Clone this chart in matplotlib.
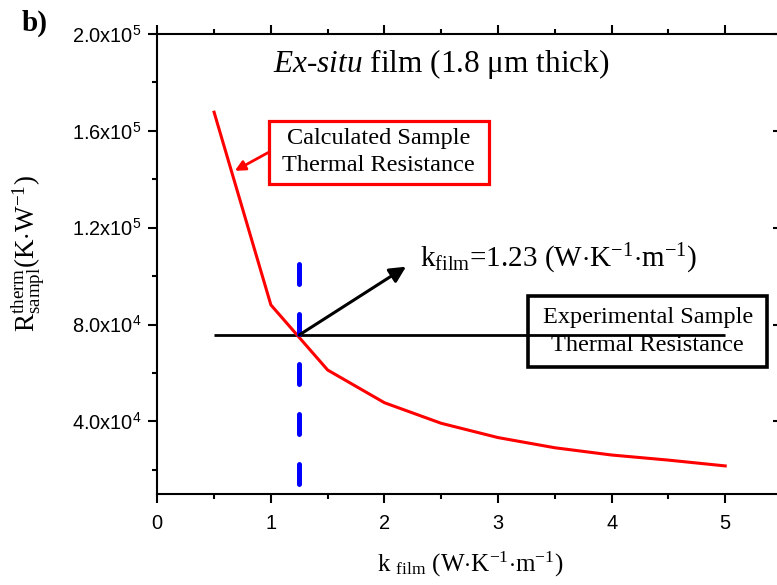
import matplotlib
matplotlib.use('Agg')
import matplotlib.pyplot as plt
from matplotlib.ticker import MultipleLocator, FuncFormatter, FixedLocator
from matplotlib.patches import Rectangle
import math

# ---- data ----
k_film = [0.5, 1.0, 1.5, 2.0, 2.5, 3.0, 3.5, 4.0, 4.5, 5.0]
r_calc = [1.677e5, 8.81e4, 6.12e4, 4.77e4, 3.92e4, 3.33e4, 2.91e4, 2.61e4, 2.40e4, 2.16e4]
k_exp = [0.5, 5.0]
r_exp = [7.57e4, 7.57e4]
k_cross = 1.25
r_cross_span = [1.05e5, 1.35e4]
x_ticks = [0, 1, 2, 3, 4, 5]
y_ticks = [4e4, 8e4, 1.2e5, 1.6e5, 2.0e5]

plt.rcParams.update({
    'font.family': ['Liberation Sans', 'DejaVu Sans'],
    'mathtext.fontset': 'custom',
    'mathtext.rm': 'Liberation Serif',
    'mathtext.it': 'Liberation Serif:italic',
    'mathtext.bf': 'Liberation Serif:bold',
    'mathtext.sf': 'Liberation Sans',
    'lines.scale_dashes': False,
    'axes.linewidth': 1.5,
})
SERIF = ['Liberation Serif', 'DejaVu Serif']

W, H = 777, 585
fig = plt.figure(figsize=(W / 100, H / 100), dpi=100)
ax = fig.add_axes([157.3 / W, (H - 494) / H, (782 - 157.3) / W, 460 / H])
ax.set_xlim(0, 5.5)
ax.set_ylim(1e4, 2e5)

ax.plot(k_exp, r_exp, color='black', lw=2.0, solid_capstyle='butt', zorder=2)
ax.plot(k_film, r_calc, color='red', lw=2.2, zorder=3)
ax.plot([k_cross, k_cross], r_cross_span, color='blue', lw=3.6,
        linestyle=(0, (14.4, 21.6)), dash_capstyle='round', zorder=4)

# ticks
ax.xaxis.set_major_locator(FixedLocator(x_ticks))
ax.xaxis.set_minor_locator(MultipleLocator(0.5))
ax.yaxis.set_major_locator(FixedLocator(y_ticks))
ax.yaxis.set_minor_locator(MultipleLocator(2e4))


def yfmt(v, pos):
    e = int(math.floor(math.log10(v)))
    m = v / 10 ** e
    return f"{m:.1f}x10$^{{\\mathsf{{{e}}}}}$"


ax.yaxis.set_major_formatter(FuncFormatter(yfmt))
ax.tick_params(axis='x', which='both', direction='out', top=True, bottom=True,
               labeltop=False, labelsize=14.4, width=1.5, pad=8)
ax.tick_params(axis='y', which='both', direction='out', left=True, right=False,
               labelsize=14.4, width=1.5, pad=5)
ax.tick_params(which='major', length=6.5)
ax.tick_params(which='minor', length=3.3)

ax2 = ax.twinx()
ax2.set_ylim(ax.get_ylim())
ax2.yaxis.set_major_locator(FixedLocator(y_ticks))
ax2.yaxis.set_minor_locator(MultipleLocator(2e4))
ax2.tick_params(axis='y', which='both', direction='in', labelright=False, width=1.5)
ax2.tick_params(which='major', length=6.5)
ax2.tick_params(which='minor', length=3.3)
for s in ['left', 'top', 'bottom']:
    ax2.spines[s].set_visible(False)

# boxes and texts
ax.add_patch(Rectangle((0.982, 1.38e5), 2.917 - 0.982, 1.642e5 - 1.38e5,
                       fill=False, ec='red', lw=2.3, zorder=5))
ax.text(1.948, 1.513e5, "Calculated Sample\nThermal Resistance", ha='center', va='center',
        family=SERIF, fontsize=17.5, linespacing=1.4, zorder=6)
ax.add_patch(Rectangle((3.266, 6.26e4), 5.37 - 3.266, 9.18e4 - 6.26e4,
                       fill=False, ec='black', lw=2.6, zorder=5, clip_on=False))
ax.text(4.317, 7.72e4, "Experimental Sample\nThermal Resistance", ha='center', va='center',
        family=SERIF, fontsize=17.5, linespacing=1.4, zorder=6)

ax.annotate('', xy=(0.683, 1.435e5), xytext=(0.975, 1.51e5),
            arrowprops=dict(arrowstyle='-|>', color='red', lw=2.0, mutation_scale=15,
                            shrinkA=0, shrinkB=0), zorder=6)
ax.annotate('', xy=(2.19, 1.039e5), xytext=(k_cross, r_exp[0]),
            arrowprops=dict(arrowstyle='-|>', color='black', lw=2.2, mutation_scale=24,
                            shrinkA=0, shrinkB=0), zorder=6)

ax.text(2.31, 1.039e5, r"k$_{\mathrm{film}}$=1.23 (W$\cdot$K$^{\mathrm{-1}}$$\cdot$m$^{\mathrm{-1}}$)",
        ha='left', va='baseline', family=SERIF, fontsize=21)
ax.text(2.5, 1.843e5, r"$\mathit{Ex}$-$\mathit{situ}$ film (1.8 μm thick)",
        ha='center', va='baseline', family=SERIF, fontsize=22.5)

fig.text(469.7 / W, 1 - 572 / H,
         r"k $_{\mathrm{film}}$ (W$\cdot$K$^{\mathrm{-1}}$$\cdot$m$^{\mathrm{-1}}$)",
         ha='center', va='baseline', family=SERIF, fontsize=18)
fig.text(28 / W, 1 - 254 / H,
         r"R$^{\mathrm{therm}}_{\mathrm{sampl}}$(K$\cdot$W$^{\mathrm{-1}}$)",
         ha='center', va='center', rotation=90, family=SERIF, fontsize=19.5)
fig.text(21.7 / W, 1 - 30.7 / H, "b)", ha='left', va='baseline', family=SERIF,
         fontsize=21, fontweight='bold')

fig.savefig('out.png', dpi=100)
